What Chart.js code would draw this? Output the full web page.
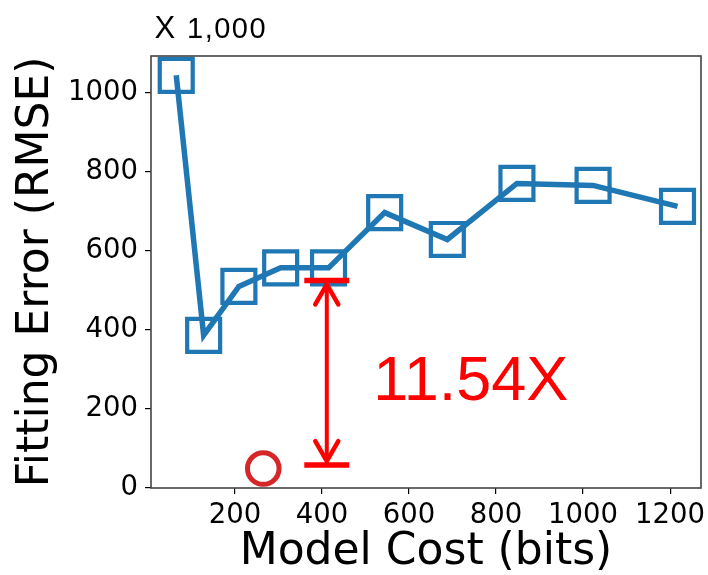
<!DOCTYPE html>
<html>
<head>
<meta charset="utf-8">
<script src="https://cdn.jsdelivr.net/npm/chart.js@4.4.1/dist/chart.umd.min.js"></script>
<style>
  html, body { margin: 0; padding: 0; background: #ffffff; }
  #wrap { width: 708px; height: 575px; }
</style>
</head>
<body>
<div id="wrap"><canvas id="c" width="708" height="575"></canvas></div>
<script>
// Model cost (bits) against fitting error (RMSE, in thousands)
const modelCost = [65, 128, 209, 305, 415, 544, 688, 848, 1023, 1217];
const fittingError = [1045, 386, 510, 557, 557, 697, 629, 771, 766, 713];

// Reference point (red circle)
const refCost = [265];
const refError = [48.27];

// Axis ticks
const xTickValues = [200, 400, 600, 800, 1000, 1200];
const yTickValues = [0, 200, 400, 600, 800, 1000];

// Gap annotation: double arrow between two levels, with its ratio label
const gapCost = 411;
const gapTop = 525;
const gapBottom = 57;
const gapLabel = '11.54X';
const gapLabelCost = 518;
const gapLabelError = 221;

const unitLabel = ['X', '1,000'];

const toPoints = (xs, ys) => xs.map((x, i) => ({ x: x, y: ys[i] }));

const framePlugin = {
  id: 'frame',
  afterDatasetsDraw(chart) {
    const { ctx, chartArea: a } = chart;
    ctx.save();
    ctx.strokeStyle = '#444444';
    ctx.lineWidth = 1.6;
    ctx.strokeRect(a.left, a.top, a.right - a.left, a.bottom - a.top);
    ctx.restore();
  }
};

const gapPlugin = {
  id: 'gapArrow',
  afterDraw(chart) {
    const { ctx } = chart;
    const xs = chart.scales.x, ys = chart.scales.y;
    const px = xs.getPixelForValue(gapCost);
    const pTop = ys.getPixelForValue(gapTop);
    const pBot = ys.getPixelForValue(gapBottom);
    const barHalf = 22.5, headW = 11.5, headH = 20, tipGap = 4;
    ctx.save();
    ctx.strokeStyle = '#ff0000';
    ctx.fillStyle = '#ff0000';
    // end bars
    ctx.lineWidth = 5.5;
    ctx.lineCap = 'butt';
    ctx.beginPath();
    ctx.moveTo(px - barHalf, pTop); ctx.lineTo(px + barHalf, pTop);
    ctx.moveTo(px - barHalf, pBot); ctx.lineTo(px + barHalf, pBot);
    ctx.stroke();
    // shaft
    ctx.lineWidth = 4;
    ctx.beginPath();
    ctx.moveTo(px, pTop + tipGap); ctx.lineTo(px, pBot - tipGap);
    ctx.stroke();
    // open heads
    ctx.lineWidth = 4.5;
    ctx.lineCap = 'round';
    ctx.lineJoin = 'round';
    ctx.beginPath();
    ctx.moveTo(px - headW, pTop + tipGap + headH);
    ctx.lineTo(px, pTop + tipGap);
    ctx.lineTo(px + headW, pTop + tipGap + headH);
    ctx.moveTo(px - headW, pBot - tipGap - headH);
    ctx.lineTo(px, pBot - tipGap);
    ctx.lineTo(px + headW, pBot - tipGap - headH);
    ctx.stroke();
    // ratio label
    ctx.font = '63px "Liberation Sans", Arial, sans-serif';
    ctx.textAlign = 'left';
    ctx.textBaseline = 'alphabetic';
    ctx.fillText(gapLabel, xs.getPixelForValue(gapLabelCost), ys.getPixelForValue(gapLabelError));
    ctx.restore();

    // unit note above the plot
    ctx.save();
    ctx.fillStyle = '#000000';
    ctx.textBaseline = 'alphabetic';
    ctx.textAlign = 'left';
    ctx.font = '31px "Liberation Sans", Arial, sans-serif';
    ctx.fillText(unitLabel[0], 154.5, 37.5);
    ctx.font = '29px "Liberation Sans", Arial, sans-serif';
    if ('letterSpacing' in ctx) ctx.letterSpacing = '1.5px';
    ctx.fillText(unitLabel[1], 187, 37.5);
    ctx.restore();
  }
};

const tickFont = { family: '"DejaVu Sans", sans-serif', size: 27.5 };
const titleFont = { family: '"DejaVu Sans", sans-serif', size: 44, lineHeight: 1 };
const plainNumber = (v) => String(v);

new Chart(document.getElementById('c'), {
  type: 'scatter',
  data: {
    datasets: [
      {
        data: toPoints(modelCost, fittingError),
        showLine: true,
        borderColor: '#1f77b4',
        borderWidth: 5.5,
        tension: 0,
        pointStyle: 'rect',
        pointRadius: 23.3,
        pointBorderWidth: 4.2,
        pointBorderColor: '#1f77b4',
        pointBackgroundColor: 'rgba(0,0,0,0)',
        clip: false
      },
      {
        data: toPoints(refCost, refError),
        showLine: false,
        pointStyle: 'circle',
        pointRadius: 15.8,
        pointBorderWidth: 5,
        pointBorderColor: '#d62728',
        pointBackgroundColor: 'rgba(0,0,0,0)',
        clip: false
      }
    ]
  },
  options: {
    responsive: false,
    animation: false,
    events: [],
    layout: { autoPadding: false, padding: { top: 56, right: 7, bottom: 0, left: 0 } },
    plugins: { legend: { display: false }, tooltip: { enabled: false } },
    scales: {
      x: {
        type: 'linear',
        position: 'bottom',
        min: 7,
        max: 1271,
        afterBuildTicks: (s) => { s.ticks = xTickValues.map(v => ({ value: v })); },
        afterFit: (s) => { s.height = 87; s.paddingLeft = 0; s.paddingRight = 0; },
        border: { display: false },
        grid: { drawOnChartArea: false, drawTicks: true, tickLength: 6, color: '#000000', lineWidth: 1.2 },
        ticks: { font: tickFont, color: '#000000', padding: 5, maxRotation: 0, autoSkip: false, callback: plainNumber },
        title: { display: true, text: 'Model Cost (bits)', font: titleFont, color: '#000000', padding: { top: 0, bottom: 0 } }
      },
      y: {
        type: 'linear',
        position: 'left',
        min: -1,
        max: 1094,
        afterBuildTicks: (s) => { s.ticks = yTickValues.map(v => ({ value: v })); },
        afterFit: (s) => { s.width = 151; s.paddingTop = 0; s.paddingBottom = 0; },
        border: { display: false },
        grid: { drawOnChartArea: false, drawTicks: true, tickLength: 6, color: '#000000', lineWidth: 1.2 },
        ticks: { font: tickFont, color: '#000000', padding: 7, autoSkip: false, callback: plainNumber },
        title: { display: true, text: 'Fitting Error (RMSE)', font: titleFont, color: '#000000', padding: { top: 14.5, bottom: 0 } }
      }
    }
  },
  plugins: [framePlugin, gapPlugin]
});
</script>
</body>
</html>
